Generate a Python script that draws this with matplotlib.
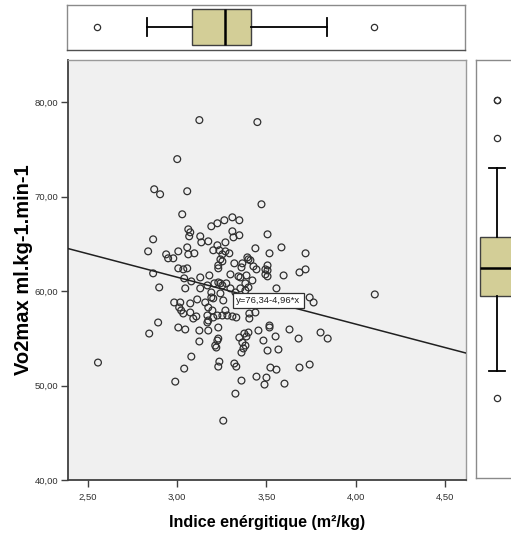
import matplotlib
matplotlib.use("Agg")
import matplotlib.pyplot as plt
from matplotlib.ticker import FuncFormatter
import numpy as np

# ---------------- data ----------------
indice = [3.124, 3.449, 3.000, 2.871, 2.904, 3.056, 3.028, 3.472,
          3.191, 3.225, 3.264, 3.309, 3.348, 3.309, 3.315, 3.348, 3.506, 3.062, 3.073, 3.067,
          3.129, 3.135, 3.174, 2.865, 2.837, 2.938, 2.949, 2.978, 3.006, 3.056, 3.062, 3.096,
          3.202, 3.225, 3.236, 3.253, 3.270, 3.292, 3.270, 3.242, 3.230, 3.253, 3.320, 3.365,
          3.360, 3.399, 3.410, 3.393, 3.438, 3.427, 3.444, 3.517, 3.584, 3.719, 3.719, 3.685,
          3.596, 3.506, 3.506, 3.506, 3.494, 3.298, 3.343, 3.388, 3.421, 3.354, 3.208, 3.242,
          3.275, 3.298, 3.399, 3.382, 3.556, 4.107, 3.742, 3.764,
          2.865, 2.899, 3.006, 3.034, 3.056, 3.039, 3.079, 3.045, 3.129, 3.129, 3.180, 3.169,
          3.230, 3.230,
          2.983, 3.017, 3.011, 3.022, 3.034, 3.073, 3.073, 3.090, 3.107, 3.112, 3.191, 3.157,
          3.174, 3.191, 3.202, 3.197, 3.169, 3.169, 3.174, 3.230, 3.225, 3.253, 3.281, 3.309,
          3.270, 3.258, 3.242, 3.253,
          2.843, 2.893, 3.006, 3.045, 3.124, 3.124, 3.230, 3.213, 3.225, 3.079, 3.236, 3.230,
          2.556, 2.989, 3.039, 3.219, 3.320, 3.331, 3.360, 3.326, 3.258, 3.444, 3.348, 3.376,
          3.371, 3.382, 3.399, 3.360, 3.489, 3.500, 3.601, 3.522, 3.556, 3.685, 3.742, 3.365,
          3.388, 3.455, 3.517, 3.517, 3.551, 3.483, 3.506, 3.567, 3.629, 3.680, 3.803, 3.843,
          3.174, 3.202, 3.331, 3.404, 3.404, 3.438, 3.382, 3.354, 3.326, 3.494]
vo2max = [78.09, 77.88, 73.96, 70.77, 70.24, 70.56, 68.12, 69.18,
          66.85, 67.17, 67.49, 67.80, 67.49, 66.32, 65.68, 65.90, 66.00, 66.53, 66.21, 65.79,
          65.79, 65.15, 65.26, 65.47, 64.20, 63.88, 63.46, 63.46, 64.20, 64.62, 63.88, 63.99,
          64.31, 64.84, 64.31, 63.88, 64.20, 63.99, 65.15, 63.35, 62.71, 63.14, 62.93, 62.93,
          62.50, 63.35, 63.25, 63.56, 64.52, 62.61, 62.29, 63.99, 64.62, 63.99, 62.29, 61.97,
          61.65, 62.71, 62.18, 61.55, 61.76, 61.76, 61.55, 61.65, 61.12, 61.44, 60.81, 60.81,
          60.81, 60.28, 60.38, 60.06, 60.28, 59.64, 59.32, 58.79,
          61.87, 60.38, 62.40, 62.29, 62.40, 61.34, 61.02, 60.28, 60.28, 61.44, 61.65, 60.59,
          62.40, 60.91,
          58.79, 58.79, 58.26, 57.94, 57.62, 58.69, 57.73, 57.09, 57.31, 59.11, 59.85, 58.79,
          58.26, 59.32, 59.22, 57.94, 57.41, 56.67, 55.82, 56.14, 57.41, 57.41, 57.41, 57.31,
          57.94, 59.00, 59.75, 60.59,
          55.50, 56.67, 56.14, 55.93, 55.82, 54.66, 54.97, 54.23, 54.76, 53.06, 52.53, 52.00,
          52.43, 50.41, 51.79, 54.02, 52.33, 52.00, 50.52, 49.14, 46.28, 50.94, 55.08, 55.50,
          53.92, 54.23, 55.61, 53.49, 50.10, 50.84, 50.20, 51.90, 51.68, 51.90, 52.22, 54.55,
          55.19, 55.82, 56.14, 56.35, 55.19, 54.76, 53.70, 53.81, 55.93, 54.97, 55.61, 54.97,
          56.88, 57.20, 57.20, 57.09, 57.62, 57.73, 60.81, 60.28, 59.85, 62.29]

fit_intercept = 76.34
fit_slope = -4.96
fit_label = "y=76,34-4,96*x"

x_ticks = [2.50, 3.00, 3.50, 4.00, 4.50]
y_ticks = [40.0, 50.0, 60.0, 70.0, 80.0]

# box-plot summaries (as shown in the marginal panels)
x_box = dict(whislo=2.837, q1=3.09, med=3.275, q3=3.42, whishi=3.843,
             fliers=[2.556, 4.107])
y_box = dict(whislo=51.37, q1=59.32, med=62.3, q3=65.58, whishi=73.0,
             fliers=[80.2, 80.2, 76.2, 48.5])

x_label = "Indice enérgitique (m²/kg)"
y_label = "Vo2max ml.kg-1.min-1"

# ---------------- figure ----------------
W, H = 511, 538
fig = plt.figure(figsize=(W / 100, H / 100), dpi=100)
fig.patch.set_facecolor("white")

fam = ["Liberation Sans", "DejaVu Sans"]

def frac(l, t, r, b):
    return [l / W, 1 - b / H, (r - l) / W, (b - t) / H]

XLIM = (2.388, 4.618)
YLIM = (40.0, 84.45)

ax = fig.add_axes(frac(68, 60, 466, 480))
ax.set_facecolor("#F0F0F0")
ax.set_xlim(*XLIM)
ax.set_ylim(*YLIM)

ax.scatter(indice, vo2max, s=24, facecolors="none", edgecolors="#303030",
           linewidths=0.9, zorder=3)

xs = np.array(XLIM)
ax.plot(xs, fit_intercept + fit_slope * xs, color="#202020", lw=1.1, zorder=4)

ax.text(3.33, 59.0, fit_label, fontsize=6.8, family=fam, ha="left", va="center",
        color="#202020", zorder=5,
        bbox=dict(boxstyle="square,pad=0.35", facecolor="white", edgecolor="#303030", lw=0.9))

comma = FuncFormatter(lambda v, p: f"{v:.2f}".replace(".", ","))
ax.set_xticks(x_ticks)
ax.set_yticks(y_ticks)
ax.xaxis.set_major_formatter(comma)
ax.yaxis.set_major_formatter(comma)
ax.tick_params(direction="out", length=5, width=1, color="#404040",
               labelsize=6.8, labelcolor="#303030", pad=2)
for lab in ax.get_xticklabels() + ax.get_yticklabels():
    lab.set_family(fam)
ax.tick_params(axis="x", pad=4)
for s in ["left", "bottom"]:
    ax.spines[s].set_color("#404040")
    ax.spines[s].set_linewidth(1.3)
for s in ["top", "right"]:
    ax.spines[s].set_color("#9a9a9a")
    ax.spines[s].set_linewidth(1.0)

fig.text(24 / W, 1 - 270 / H, y_label, rotation=90, ha="center", va="center",
         fontsize=14.5, fontweight="bold", family=fam, color="black")
fig.text(267 / W, 1 - 523 / H, x_label, ha="center", va="center",
         fontsize=11.6, fontweight="bold", family=fam, color="black")

box_face = "#D3CE97"

# top marginal box plot
axt = fig.add_axes(frac(67, 5, 465, 50))
axt.set_facecolor("white")
axt.bxp([x_box], positions=[0.511], widths=[0.8], vert=False, patch_artist=True,
        showfliers=True, capwidths=[0.38],
        boxprops=dict(facecolor=box_face, edgecolor="#404040", lw=1.0),
        medianprops=dict(color="black", lw=1.8),
        whiskerprops=dict(color="black", lw=1.3),
        capprops=dict(color="black", lw=1.3),
        flierprops=dict(marker="o", markersize=4.5, markerfacecolor="none",
                        markeredgecolor="#303030", markeredgewidth=0.9))
axt.set_xticks([]); axt.set_yticks([])
axt.set_xlim(*XLIM); axt.set_ylim(0, 1)
for s in axt.spines.values():
    s.set_color("#8a8a8a"); s.set_linewidth(1.0)
axt.spines["bottom"].set_color("#505050")

# right marginal box plot
axr = fig.add_axes(frac(476, 60, 516, 478))
axr.set_facecolor("white")
axr.bxp([y_box], positions=[0.525], widths=[0.85], vert=True, patch_artist=True,
        showfliers=True, capwidths=[0.42],
        boxprops=dict(facecolor=box_face, edgecolor="#404040", lw=1.0),
        medianprops=dict(color="black", lw=1.8),
        whiskerprops=dict(color="black", lw=1.3),
        capprops=dict(color="black", lw=1.3),
        flierprops=dict(marker="o", markersize=4.5, markerfacecolor="none",
                        markeredgecolor="#303030", markeredgewidth=0.9))
axr.set_xticks([]); axr.set_yticks([])
axr.set_xlim(0, 1); axr.set_ylim(*YLIM)
for s in axr.spines.values():
    s.set_color("#8a8a8a"); s.set_linewidth(1.0)

fig.savefig("out.png", dpi=100, facecolor="white")
